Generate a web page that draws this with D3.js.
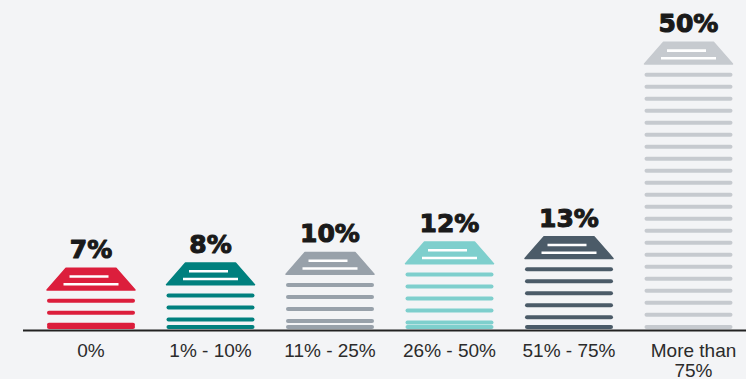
<!DOCTYPE html>
<html>
<head>
<meta charset="utf-8">
<script src="https://cdn.jsdelivr.net/npm/d3@7/dist/d3.min.js"></script>
<style>
  html, body { margin: 0; padding: 0; background: #f3f4f6; }
  svg { display: block; }
</style>
</head>
<body>
<svg id="chart" width="746" height="379"></svg>
<script>
// Share of respondents by range
const categories = ["0%", "1% - 10%", "11% - 25%", "26% - 50%", "51% - 75%", "More than 75%"];
const values = [7, 8, 10, 12, 13, 50];
const valueLabels = ["7%", "8%", "10%", "12%", "13%", "50%"];
const categoryLines = [["0%"], ["1% - 10%"], ["11% - 25%"], ["26% - 50%"], ["51% - 75%"], ["More than", "75%"]];
const colors = ["#dc1e3c", "#00807e", "#98a1aa", "#7ecfcd", "#4b5b68", "#c6cacf"];

const W = 746, H = 379;
const baseY = 330.5;       // axis line
const stackBottom = 327;   // lowest slat
const lidH = 21.7;         // lid (trapezoid) height
const lidInset = 19;       // top edge inset of the lid
const slatGap = 32.5;      // from bar top to first slat
const slatStep = 12;
const slatW = 4;

const svg = d3.select("#chart");

const step = 119.5;
const x = d3.scaleBand()
  .domain(categories)
  .range([91 - step / 2, 91 - step / 2 + categories.length * step])
  .paddingInner(1 - 88 / step)
  .paddingOuter((1 - 88 / step) / 2);

const y = d3.scaleLinear().domain([0, 50]).range([305, 42.3]);

const data = categories.map((c, i) => ({
  cat: c, value: values[i], label: valueLabels[i], color: colors[i], lines: categoryLines[i]
}));

const bars = svg.append("g").selectAll("g.bar")
  .data(data).join("g").attr("class", "bar");

bars.each(function(d) {
  const g = d3.select(this);
  const x0 = x(d.cat), x1 = x0 + x.bandwidth(), cx = x0 + x.bandwidth() / 2;
  const top = y(d.value);

  // lid
  const lid = d3.path();
  lid.moveTo(x0 + lidInset, top);
  lid.lineTo(x1 - lidInset, top);
  lid.lineTo(x1, top + lidH);
  lid.lineTo(x0, top + lidH);
  lid.closePath();
  g.append("path")
    .attr("d", lid.toString())
    .attr("fill", d.color)
    .attr("stroke", d.color)
    .attr("stroke-width", 1.5)
    .attr("stroke-linejoin", "round");

  // white marks inside the lid
  g.append("line")
    .attr("x1", cx - 21.5).attr("x2", cx + 17.5)
    .attr("y1", top + 8.3).attr("y2", top + 8.3)
    .attr("stroke", "#ffffff").attr("stroke-width", 2.6);
  g.append("line")
    .attr("x1", cx - 27.5).attr("x2", cx + 27.5)
    .attr("y1", top + 16).attr("y2", top + 16)
    .attr("stroke", "#ffffff").attr("stroke-width", 2.6);

  // slats below the lid, with one resting on the base
  const slats = d3.range(top + slatGap, stackBottom - 1.5, slatStep);
  slats.push(stackBottom);
  g.selectAll("line.slat").data(slats).join("line")
    .attr("class", "slat")
    .attr("x1", x0 + slatW / 2).attr("x2", x1 - slatW / 2)
    .attr("y1", s => s).attr("y2", s => s)
    .attr("stroke", d.color)
    .attr("stroke-width", slatW)
    .attr("stroke-linecap", "round");

  // value label
  g.append("text")
    .attr("x", cx)
    .attr("y", top - 10)
    .attr("text-anchor", "middle")
    .attr("font-family", "DejaVu Sans")
    .attr("font-weight", "bold")
    .attr("font-size", 25)
    .attr("fill", "#1a1a1a")
    .attr("stroke", "#1a1a1a")
    .attr("stroke-width", 1.1)
    .attr("stroke-linejoin", "round")
    .text(d.label);
});

// axis
const axis = svg.append("g").attr("transform", `translate(0,${baseY})`)
  .call(d3.axisBottom(x).tickSize(0).tickFormat(""));
axis.select(".domain").remove();
axis.append("line")
  .attr("x1", 23).attr("x2", W)
  .attr("y1", 0).attr("y2", 0)
  .attr("stroke", "#222222").attr("stroke-width", 2.2);

axis.selectAll(".tick").each(function(c) {
  const d = data.find(e => e.cat === c);
  const t = d3.select(this).append("text")
    .attr("text-anchor", "middle")
    .attr("font-family", "Liberation Sans, Arial, sans-serif")
    .attr("font-size", 19)
    .attr("fill", "#2b2b2b");
  d.lines.forEach((ln, i) => {
    t.append("tspan").attr("x", d.lines.length > 1 ? 5 : 0).attr("y", 26.5 + i * 19.5).text(ln);
  });
});
</script>
</body>
</html>
